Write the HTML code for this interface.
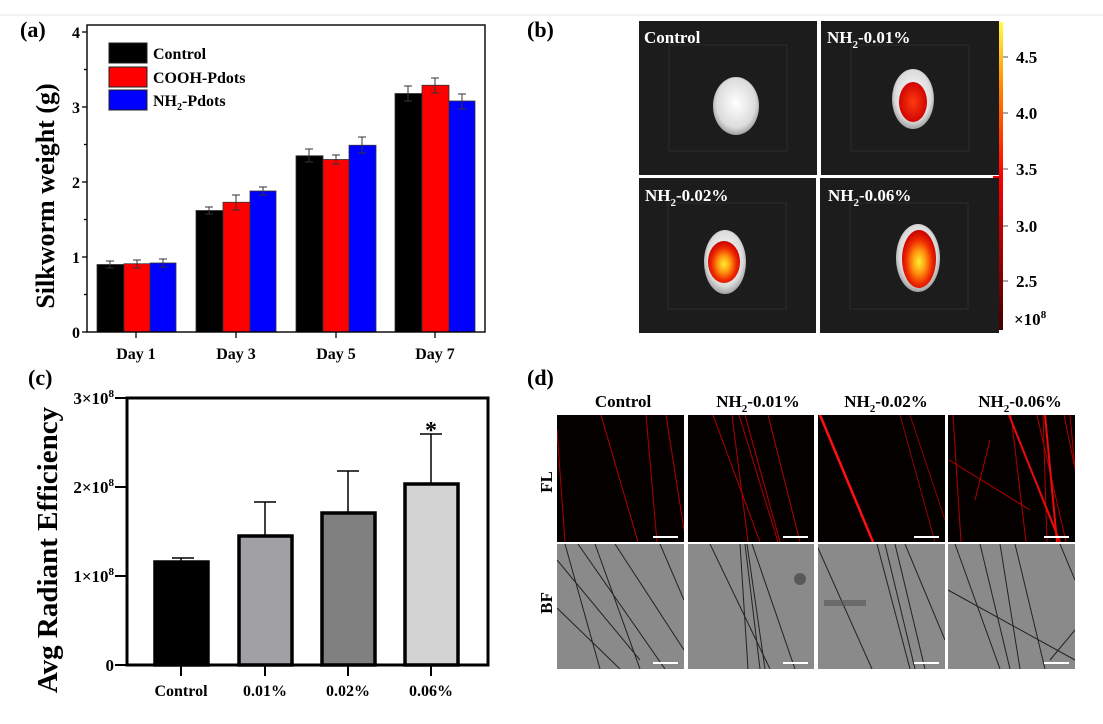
<!DOCTYPE html>
<html><head><meta charset="utf-8"><style>
html,body{margin:0;padding:0;background:#fff;}
svg{display:block;font-family:"Liberation Serif",serif;font-weight:bold;}
</style></head><body>
<svg width="1103" height="724" viewBox="0 0 1103 724" xmlns="http://www.w3.org/2000/svg">
<defs>
<radialGradient id="hot" cx="50%" cy="55%" r="55%">
<stop offset="0" stop-color="#ffee30"/><stop offset="0.35" stop-color="#ff9a10"/><stop offset="0.7" stop-color="#ee2a00"/><stop offset="1" stop-color="#c80000"/>
</radialGradient>
<radialGradient id="hot2" cx="50%" cy="50%" r="55%">
<stop offset="0" stop-color="#ff3a10"/><stop offset="1" stop-color="#cc0000"/>
</radialGradient>
<radialGradient id="coc" cx="50%" cy="45%" r="60%">
<stop offset="0" stop-color="#ffffff"/><stop offset="0.7" stop-color="#dcdcdc"/><stop offset="1" stop-color="#8a8a8a"/>
</radialGradient>
<linearGradient id="cbar" x1="0" y1="1" x2="0" y2="0">
<stop offset="0" stop-color="#400000"/><stop offset="0.5" stop-color="#ff0000"/><stop offset="0.8" stop-color="#ff8c00"/><stop offset="1" stop-color="#ffff40"/>
</linearGradient>
<clipPath id="c1"><rect x="557" y="415" width="127" height="127"/></clipPath>
<clipPath id="c2"><rect x="688" y="415" width="126" height="127"/></clipPath>
<clipPath id="c3"><rect x="818" y="415" width="127" height="127"/></clipPath>
<clipPath id="c4"><rect x="948" y="415" width="127" height="127"/></clipPath>
<clipPath id="b1"><rect x="557" y="544" width="127" height="125"/></clipPath>
<clipPath id="b2"><rect x="688" y="544" width="126" height="125"/></clipPath>
<clipPath id="b3"><rect x="818" y="544" width="127" height="125"/></clipPath>
<clipPath id="b4"><rect x="948" y="544" width="127" height="125"/></clipPath>
</defs>
<line x1="0" y1="15" x2="1103" y2="15" stroke="#e4e4e4" stroke-width="1"/>

<!-- Panel a -->
<text x="20" y="37" font-size="22">(a)</text>
<g stroke="#000" stroke-width="1.3">
<line x1="82" y1="32" x2="87" y2="32"/><line x1="82" y1="107" x2="87" y2="107"/><line x1="82" y1="182" x2="87" y2="182"/><line x1="82" y1="257" x2="87" y2="257"/><line x1="82" y1="332" x2="87" y2="332"/>
<line x1="84" y1="69.5" x2="87" y2="69.5"/><line x1="84" y1="144.5" x2="87" y2="144.5"/><line x1="84" y1="219.5" x2="87" y2="219.5"/><line x1="84" y1="294.5" x2="87" y2="294.5"/>
<line x1="136" y1="332" x2="136" y2="338"/><line x1="236" y1="332" x2="236" y2="338"/><line x1="336" y1="332" x2="336" y2="338"/><line x1="435" y1="332" x2="435" y2="338"/>
</g>
<g font-size="16" text-anchor="end">
<text x="80" y="38">4</text><text x="80" y="113">3</text><text x="80" y="188">2</text><text x="80" y="263">1</text><text x="80" y="338">0</text>
</g>
<g font-size="16" text-anchor="middle">
<text x="136" y="359">Day 1</text><text x="236" y="359">Day 3</text><text x="336" y="359">Day 5</text><text x="435" y="359">Day 7</text>
</g>
<text transform="translate(54,196) rotate(-90)" font-size="26" text-anchor="middle">Silkworm weight (g)</text>
<g stroke="#333" stroke-width="0.8">
<rect x="97" y="264.5" width="27" height="67.5" fill="#000"/>
<rect x="124" y="263.75" width="26" height="68.25" fill="#f00"/>
<rect x="150" y="263" width="26" height="69" fill="#00f"/>
<rect x="196" y="210.5" width="27" height="121.5" fill="#000"/>
<rect x="223" y="202.25" width="27" height="129.75" fill="#f00"/>
<rect x="250" y="191" width="26" height="141" fill="#00f"/>
<rect x="296" y="155.75" width="27" height="176.25" fill="#000"/>
<rect x="323" y="159.5" width="26" height="172.5" fill="#f00"/>
<rect x="349" y="145.25" width="27" height="186.75" fill="#00f"/>
<rect x="395" y="93.5" width="27" height="238.5" fill="#000"/>
<rect x="422" y="85.25" width="27" height="246.75" fill="#f00"/>
<rect x="449" y="101" width="26" height="231" fill="#00f"/>
</g>
<g stroke="#333" stroke-width="1">
<path d="M110 261v7M106 261h8M106 268h8"/>
<path d="M137 260v8M133 260h8M133 268h8"/>
<path d="M163 259v8M159 259h8M159 267h8"/>
<path d="M209 207v7M205 207h8M205 214h8"/>
<path d="M236 195v15M232 195h8M232 210h8"/>
<path d="M263 187v8M259 187h8M259 195h8"/>
<path d="M309 149v13M305 149h8M305 162h8"/>
<path d="M336 155v9M332 155h8M332 164h8"/>
<path d="M362 137v16M358 137h8M358 153h8"/>
<path d="M408 86v15M404 86h8M404 101h8"/>
<path d="M435 78v15M431 78h8M431 93h8"/>
<path d="M462 94v15M458 94h8M458 109h8"/>
</g>
<rect x="87" y="25" width="398" height="307" fill="none" stroke="#000" stroke-width="1.4"/>
<g stroke="#222" stroke-width="1">
<rect x="109" y="43" width="38" height="20" fill="#000"/>
<rect x="109" y="67" width="38" height="20" fill="#f00"/>
<rect x="109" y="90" width="38" height="20" fill="#00f"/>
</g>
<g font-size="16">
<text x="153" y="59">Control</text><text x="153" y="83">COOH-Pdots</text>
<text x="153" y="106">NH<tspan font-size="10" dy="4">2</tspan><tspan dy="-4">-Pdots</tspan></text>
</g>

<!-- Panel b -->
<text x="527" y="37" font-size="22">(b)</text>
<g fill="#1c1c1c">
<rect x="639" y="21" width="178" height="154"/><rect x="821" y="21" width="178" height="154"/>
<rect x="639" y="178" width="177" height="155"/><rect x="820" y="178" width="179" height="155"/>
</g>
<g fill="none" stroke="#2c2c2c" stroke-width="1">
<rect x="669" y="45" width="118" height="106"/><rect x="851" y="45" width="118" height="106"/>
<rect x="668" y="203" width="118" height="106"/><rect x="850" y="203" width="118" height="106"/>
</g>
<ellipse cx="736" cy="106" rx="23" ry="29" fill="url(#coc)"/>
<ellipse cx="913" cy="99" rx="21" ry="30" fill="url(#coc)"/>
<ellipse cx="913" cy="102" rx="14" ry="20" fill="url(#hot2)"/>
<ellipse cx="725" cy="262" rx="21" ry="32" fill="url(#coc)"/>
<ellipse cx="724" cy="262" rx="16" ry="21" fill="url(#hot)"/>
<ellipse cx="918" cy="258" rx="22" ry="34" fill="url(#coc)"/>
<ellipse cx="919" cy="259" rx="17" ry="29" fill="url(#hot)"/>
<g fill="#fff" font-size="17">
<text x="644" y="43">Control</text>
<text x="827" y="43">NH<tspan font-size="11" dy="5">2</tspan><tspan dy="-5">-0.01%</tspan></text>
<text x="645" y="201">NH<tspan font-size="11" dy="5">2</tspan><tspan dy="-5">-0.02%</tspan></text>
<text x="828" y="201">NH<tspan font-size="11" dy="5">2</tspan><tspan dy="-5">-0.06%</tspan></text>
</g>
<rect x="999" y="22" width="4" height="308" fill="url(#cbar)"/>
<line x1="993" y1="177" x2="1003" y2="177" stroke="#e00" stroke-width="2"/>
<g stroke="#555" stroke-width="1">
<line x1="1003" y1="57" x2="1008" y2="57"/><line x1="1003" y1="113" x2="1008" y2="113"/><line x1="1003" y1="169" x2="1008" y2="169"/><line x1="1003" y1="226" x2="1008" y2="226"/><line x1="1003" y1="281" x2="1008" y2="281"/>
</g>
<g font-size="17">
<text x="1016" y="63">4.5</text><text x="1016" y="119">4.0</text><text x="1016" y="175">3.5</text><text x="1016" y="232">3.0</text><text x="1016" y="287">2.5</text>
<text x="1014" y="325">×10<tspan font-size="11" dy="-7">8</tspan></text>
</g>

<!-- Panel c -->
<text x="28" y="385" font-size="22">(c)</text>
<text transform="translate(57,550) rotate(-90)" font-size="29" text-anchor="middle">Avg Radiant Efficiency</text>
<g font-size="17" text-anchor="end">
<text x="114" y="404">3×10<tspan font-size="11" dy="-7">8</tspan></text>
<text x="114" y="493">2×10<tspan font-size="11" dy="-7">8</tspan></text>
<text x="114" y="582">1×10<tspan font-size="11" dy="-7">8</tspan></text>
<text x="114" y="671">0</text>
</g>
<g stroke="#000" stroke-width="2">
<line x1="115" y1="398" x2="127" y2="398"/><line x1="115" y1="487" x2="127" y2="487"/><line x1="115" y1="576" x2="127" y2="576"/><line x1="115" y1="665" x2="127" y2="665"/>
<line x1="181" y1="665" x2="181" y2="676"/><line x1="265" y1="665" x2="265" y2="676"/><line x1="348" y1="665" x2="348" y2="676"/><line x1="431" y1="665" x2="431" y2="676"/>
</g>
<g stroke="#000" stroke-width="1.5">
<path d="M181 561v-3M172 558h22"/>
<path d="M265 535v-33M254 502h22"/>
<path d="M348 512v-41M337 471h22"/>
<path d="M431 483v-49M420 434h22"/>
</g>
<g stroke="#000" stroke-width="3.5">
<rect x="155" y="562" width="53" height="103" fill="#000"/>
<rect x="239" y="536" width="53" height="129" fill="#a1a1a5"/>
<rect x="322" y="513" width="53" height="152" fill="#808080"/>
<rect x="405" y="484" width="53" height="181" fill="#d3d3d3"/>
</g>
<rect x="127" y="398" width="361" height="267" fill="none" stroke="#000" stroke-width="3"/>
<text x="431" y="438" font-size="24" text-anchor="middle">*</text>
<g font-size="16" text-anchor="middle">
<text x="181" y="696">Control</text><text x="265" y="696">0.01%</text><text x="348" y="696">0.02%</text><text x="431" y="696">0.06%</text>
</g>

<!-- Panel d -->
<text x="527" y="385" font-size="22">(d)</text>
<g font-size="17" text-anchor="middle">
<text x="623" y="407">Control</text>
<text x="758" y="407">NH<tspan font-size="11" dy="5">2</tspan><tspan dy="-5">-0.01%</tspan></text>
<text x="886" y="407">NH<tspan font-size="11" dy="5">2</tspan><tspan dy="-5">-0.02%</tspan></text>
<text x="1020" y="407">NH<tspan font-size="11" dy="5">2</tspan><tspan dy="-5">-0.06%</tspan></text>
</g>
<text transform="translate(552,482) rotate(-90)" font-size="17" text-anchor="middle">FL</text>
<text transform="translate(552,603) rotate(-90)" font-size="17" text-anchor="middle">BF</text>
<g fill="#050000">
<rect x="557" y="415" width="127" height="127"/><rect x="688" y="415" width="126" height="127"/>
<rect x="818" y="415" width="127" height="127"/><rect x="948" y="415" width="127" height="127"/>
</g>
<g fill="#8a8a8a">
<rect x="557" y="544" width="127" height="125"/><rect x="688" y="544" width="126" height="125"/>
<rect x="818" y="544" width="127" height="125"/><rect x="948" y="544" width="127" height="125"/>
</g>
<g stroke="#b00000" stroke-width="1" fill="none">
<path clip-path="url(#c1)" d="M557 430L565 542M601 415L638 542M646 415L657 542M666 415L684 530"/>
<path clip-path="url(#c2)" d="M713 415L760 542M732 415L748 542M739 415L778 542M745 415L780 542M768 415L800 542"/>
<path clip-path="url(#c3)" d="M900 415L935 542M910 415L945 520M820 415L873 542" stroke-width="0.8"/>
<path clip-path="url(#c4)" d="M953 415L961 542M1011 415L1026 542M1043 415L1047 542M1070 415L1075 470M949 460L1030 510M975 500L990 440M1037 415L1066 542M1064 415L1090 542"/>
</g>
<path clip-path="url(#c3)" d="M820 415L873 542" stroke="#ff1010" stroke-width="2.5"/>
<path clip-path="url(#c4)" d="M1009 415L1060 542M1045 415L1057 542" stroke="#ee0a0a" stroke-width="2" fill="none"/>
<g stroke="#222" stroke-width="1" fill="none">
<path clip-path="url(#b1)" d="M557 560L640 660M578 544L665 669M595 544L640 669M615 544L684 650M557 608L620 669M660 544L684 600M565 544L600 669"/>
<path clip-path="url(#b2)" d="M710 544L770 669M740 544L748 669M747 544L765 669M752 544L795 669M745 544L760 669"/>
<path clip-path="url(#b3)" d="M818 548L872 669M877 544L910 669M895 544L925 669M905 544L945 640M885 544L915 669"/>
<path clip-path="url(#b4)" d="M948 590L1075 660M955 544L1000 669M980 544L1010 669M1000 544L1020 669M1015 544L1045 669M1060 544L1075 580M1050 660L1075 630"/>
</g>
<rect x="824" y="600" width="42" height="6" fill="#555" opacity="0.6"/>
<circle cx="800" cy="579" r="6" fill="#444" opacity="0.7"/>
<g stroke="#fff" stroke-width="2">
<path d="M653 537h25M783 537h25M914 537h25M1044 537h25"/>
<path d="M653 663h25M783 663h25M914 663h25M1044 663h25"/>
</g>
</svg>
</body></html>
